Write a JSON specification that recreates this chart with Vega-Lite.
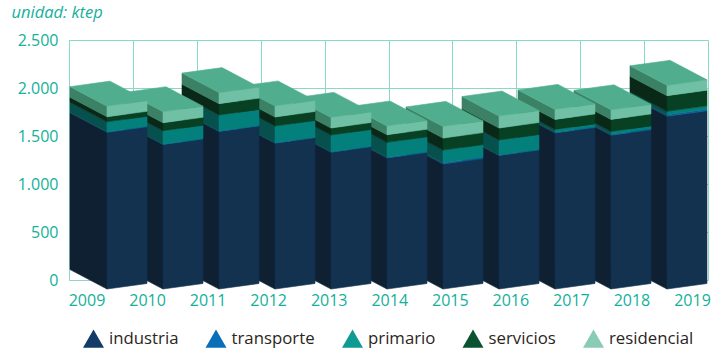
{
"$schema":"https://vega.github.io/schema/vega-lite/v6.json",
"width":639,"height":240,
"autosize":{"type":"none"},
"padding":{"left":69,"top":40,"right":10,"bottom":75},
"background":"white",
"config":{"view":{"stroke":null},"font":"Open Sans"},
"data":{"values":[
{"year":2019,"sector":"industria","value":1799},{"year":2019,"sector":"transporte","value":17},{"year":2019,"sector":"primario","value":35},{"year":2019,"sector":"servicios","value":163},{"year":2019,"sector":"residencial","value":108},
{"year":2018,"sector":"industria","value":1601},{"year":2018,"sector":"transporte","value":10},{"year":2018,"sector":"primario","value":31},{"year":2018,"sector":"servicios","value":125},{"year":2018,"sector":"residencial","value":100},
{"year":2017,"sector":"industria","value":1625},{"year":2017,"sector":"transporte","value":7},{"year":2017,"sector":"primario","value":31},{"year":2017,"sector":"servicios","value":104},{"year":2017,"sector":"residencial","value":104},
{"year":2016,"sector":"industria","value":1391},{"year":2016,"sector":"transporte","value":5},{"year":2016,"sector":"primario","value":156},{"year":2016,"sector":"servicios","value":125},{"year":2016,"sector":"residencial","value":125},
{"year":2015,"sector":"industria","value":1302},{"year":2015,"sector":"transporte","value":13},{"year":2015,"sector":"primario","value":132},{"year":2015,"sector":"servicios","value":125},{"year":2015,"sector":"residencial","value":122},
{"year":2014,"sector":"industria","value":1365},{"year":2014,"sector":"transporte","value":7},{"year":2014,"sector":"primario","value":156},{"year":2014,"sector":"servicios","value":79},{"year":2014,"sector":"residencial","value":91},
{"year":2013,"sector":"industria","value":1425},{"year":2013,"sector":"transporte","value":5},{"year":2013,"sector":"primario","value":174},{"year":2013,"sector":"servicios","value":73},{"year":2013,"sector":"residencial","value":111},
{"year":2012,"sector":"industria","value":1519},{"year":2012,"sector":"transporte","value":5},{"year":2012,"sector":"primario","value":174},{"year":2012,"sector":"servicios","value":94},{"year":2012,"sector":"residencial","value":115},
{"year":2011,"sector":"industria","value":1641},{"year":2011,"sector":"transporte","value":5},{"year":2011,"sector":"primario","value":167},{"year":2011,"sector":"servicios","value":118},{"year":2011,"sector":"residencial","value":115},
{"year":2010,"sector":"industria","value":1505},{"year":2010,"sector":"transporte","value":5},{"year":2010,"sector":"primario","value":139},{"year":2010,"sector":"servicios","value":83},{"year":2010,"sector":"residencial","value":115},
{"year":2009,"sector":"industria","value":1632},{"year":2009,"sector":"transporte","value":6},{"year":2009,"sector":"primario","value":104},{"year":2009,"sector":"servicios","value":52},{"year":2009,"sector":"residencial","value":111}
]},
"layer":[
{"mark":{"type":"rule","opacity":0},
 "encoding":{"x":{"field":"year","type":"quantitative","scale":{"domain":[2009,2019],"nice":false,"zero":false},
   "axis":{"orient":"bottom","values":[2009,2010,2011,2012,2013,2014,2015,2016,2017,2018,2019],"labels":false,"ticks":false,"domain":false,"title":null,"grid":true,"gridColor":"#8ad8c8","gridWidth":1}}}},
{"mark":{"type":"rule","opacity":0},
 "encoding":{"x":{"field":"year","type":"quantitative","scale":{"domain":[2008.711,2019.264],"nice":false,"zero":false},
   "axis":{"orient":"bottom","values":[2009,2010,2011,2012,2013,2014,2015,2016,2017,2018,2019],"format":"d","ticks":false,"domain":false,"grid":false,"title":null,"labelColor":"#14b09a","labelFontSize":16,"labelFont":"Open Sans","labelPadding":12,"labelFlush":false,"labelOverlap":false}}}},
{"transform":[
  {"calculate":"indexof(['industria','transporte','primario','servicios','residencial'],datum.sector)","as":"rank"},
  {"stack":"value","groupby":["year"],"sort":[{"field":"rank","order":"ascending"}],"as":["v0","v1"]},
  {"calculate":"[{f:'lateral',x:datum.year-0.6607,a:datum.v0+109,b:datum.v1+109},{f:'lateral',x:datum.year,a:datum.v0-94,b:datum.v1-94},{f:'frontal',x:datum.year,a:datum.v0-94,b:datum.v1-94},{f:'frontal',x:datum.year+0.7143,a:datum.v0-36.7,b:datum.v1-36.7},{f:'superior',x:datum.year-0.6607,a:datum.v1+109,b:datum.v1+109},{f:'superior',x:datum.year,a:datum.v1-94,b:datum.v1+162},{f:'superior',x:datum.year+0.0536,a:datum.v1-89.7,b:datum.v1+166.3},{f:'superior',x:datum.year+0.7143,a:datum.v1-36.7,b:datum.v1-36.7}]","as":"p"},
  {"flatten":["p"]},
  {"filter":"datum.p.f!=='superior'||datum.sector==='residencial'"},
  {"calculate":"datum.p.x","as":"px"},
  {"calculate":"datum.p.a","as":"pa"},
  {"calculate":"datum.p.b","as":"pb"},
  {"calculate":"datum.sector+' '+datum.p.f","as":"cara"},
  {"calculate":"datum.year+' '+datum.sector+' '+datum.p.f","as":"id"}
 ],
 "mark":{"type":"area","clip":false,"line":false,"strokeWidth":0.6},
 "encoding":{
  "x":{"field":"px","type":"quantitative","scale":{"domain":[2008.3214,2019.7325],"nice":false,"zero":false},"axis":null},
  "y":{"field":"pb","type":"quantitative","stack":null,"scale":{"domain":[0,2500],"nice":false,"zero":false},
    "axis":{"values":[0,500,1000,1500,2000,2500],"labelExpr":"replace(format(datum.value,','),',','.')","title":"unidad: ktep","titleAngle":0,"titleX":-58,"titleY":-23,"titleAlign":"left","titleBaseline":"alphabetic","titleFont":"Open Sans","titleFontSize":16.5,"titleFontStyle":"italic","titleFontWeight":"normal","titleColor":"#14b09a","labelColor":"#14b09a","labelFontSize":16,"labelFont":"Open Sans","labelPadding":11,"ticks":false,"domain":true,"domainColor":"#8ad8c8","grid":true,"gridColor":"#8ad8c8","gridWidth":1}},
  "y2":{"field":"pa"},
  "detail":{"field":"id"},
  "fill":{"field":"cara","type":"nominal","legend":null,"scale":{
    "domain":["industria frontal","industria lateral","transporte frontal","transporte lateral","primario frontal","primario lateral","servicios frontal","servicios lateral","residencial frontal","residencial lateral","residencial superior"],
    "range":["#123250","#0f2032","#0a5c9a","#0a4468","#04807c","#06504e","#074023","#092818","#6fc0a5","#3b8166","#50ae8f"]}},
  "stroke":{"field":"cara","type":"nominal","legend":null,"scale":{
    "domain":["industria frontal","industria lateral","transporte frontal","transporte lateral","primario frontal","primario lateral","servicios frontal","servicios lateral","residencial frontal","residencial lateral","residencial superior"],
    "range":["#123250","#0f2032","#0a5c9a","#0a4468","#04807c","#06504e","#074023","#092818","#6fc0a5","#3b8166","#50ae8f"]}}
 }},
{"mark":{"type":"point","filled":true,"opacity":0,"shape":"triangle-up"},
 "encoding":{
  "fill":{"field":"sector","type":"nominal","scale":{"domain":["industria","transporte","primario","servicios","residencial"],"range":["#123c66","#0a6fb8","#0f9a94","#0a5230","#8acbb5"]},
   "legend":{"title":null,"orient":"none","legendX":14,"legendY":288,"direction":"horizontal","columns":5,"symbolType":"triangle-up","symbolSize":441,"symbolStrokeWidth":0,"labelFont":"Open Sans","labelFontSize":16.8,"labelColor":"#2b2522","labelOffset":5,"columnPadding":26.5,"encode":{"symbols":{"update":{"opacity":{"value":1}}}}}}
 }}
],
"resolve":{"scale":{"x":"independent","fill":"independent","stroke":"independent"},"axis":{"x":"independent"}}
}
